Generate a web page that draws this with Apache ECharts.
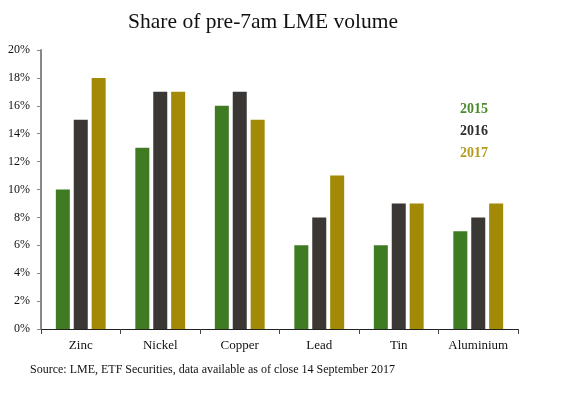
<!DOCTYPE html>
<html><head><meta charset="utf-8">
<script src="https://cdn.jsdelivr.net/npm/echarts@6/dist/echarts.min.js"></script>
<style>html,body{margin:0;padding:0;background:#fff}#c{width:562px;height:395px}</style>
</head><body><div id="c"></div>
<script>
const categories = ['Zinc','Nickel','Copper','Lead','Tin','Aluminium'];
const years = ['2015','2016','2017'];
const v2015 = [10,13,16,6,6,7];
const v2016 = [15,17,17,8,9,8];
const v2017 = [18,17,15,11,9,9];
const colors = ['#3e7b22','#3a3734','#a28a06'];
const legendColors = ['#4a8a2a','#2e2e2e','#b39c1e'];
const serif = '"Liberation Serif","DejaVu Serif",serif';
const chart = echarts.init(document.getElementById('c'));
chart.setOption({
  animation:false,
  title:{text:'Share of pre-7am LME volume',left:258,top:6,textAlign:'center',
    textStyle:{fontFamily:serif,fontSize:21.5,fontWeight:'normal',color:'#111'}},
  legend:{orient:'vertical',left:450,top:97,itemGap:8,icon:'none',itemWidth:0,itemHeight:10,selectedMode:false,
    textStyle:{fontFamily:serif,fontSize:14,fontWeight:'bold'},
    data:years.map((y,i)=>({name:y,textStyle:{color:legendColors[i]}}))},
  grid:{left:41,right:44,top:50,bottom:66},
  xAxis:{type:'category',data:categories,
    axisLine:{lineStyle:{color:'#222',width:1}},
    axisTick:{show:true,alignWithLabel:false,length:5,lineStyle:{color:'#444'}},
    axisLabel:{fontFamily:serif,fontSize:13,color:'#111',margin:10}},
  yAxis:{type:'value',min:0,max:20,interval:2,
    axisLine:{show:true,lineStyle:{color:'#888',width:2}},
    axisTick:{show:true,length:4,lineStyle:{color:'#888'}},
    splitLine:{show:false},
    axisLabel:{fontFamily:serif,fontSize:12,color:'#111',formatter:'{value}%',margin:11}},
  graphic:[{type:'text',left:30,top:364,style:{text:'Source: LME, ETF Securities, data available as of close 14 September 2017',
    font:'12px '+serif,fill:'#111'}}],
  series:[v2015,v2016,v2017].map((d,i)=>({name:years[i],type:'bar',data:d,barWidth:14,barGap:'28%',
    itemStyle:{color:colors[i]}}))
});
</script></body></html>
